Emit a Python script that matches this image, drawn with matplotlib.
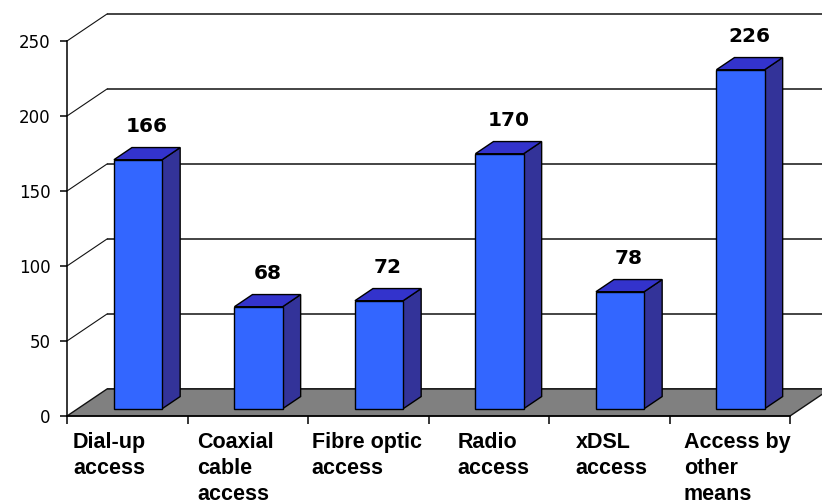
import matplotlib
matplotlib.use("Agg")
import matplotlib.pyplot as plt
from matplotlib.patches import Polygon

# Data
categories = ["Dial-up\naccess", "Coaxial\ncable\naccess", "Fibre optic\naccess",
              "Radio\naccess", "xDSL\naccess", "Access by\nother\nmeans"]
values = [166, 68, 72, 170, 78, 226]
y_ticks = [0, 50, 100, 150, 200, 250]

# Layout (pseudo-3D geometry in data units)
DEPTH_X = 0.332      # wall depth along x (category units)
DEPTH_Y = 18.0       # wall depth along y (value units)
BAR_W = 0.40
BAR_FRONT = 0.27     # bar front position as a fraction of depth
BAR_DEPTH = 0.45     # bar depth as a fraction of depth
label_left = [0.05, 1.08, 2.03, 3.24, 4.22, 5.12]

FRONT = "#3366FF"
SIDE = "#333399"
TOP = "#3333CC"
FLOOR = "#808080"

fig = plt.figure(figsize=(8.22, 5.04), dpi=100)
fig.patch.set_facecolor("white")
ax = fig.add_axes([67 / 822, 88 / 504, 723 / 822, 375 / 504])
ax.set_facecolor("none")
n = len(values)
ax.set_xlim(0, n)
ax.set_ylim(0, 250)

# Back wall gridlines and side wall diagonals
for v in y_ticks:
    ax.plot([DEPTH_X, n + DEPTH_X], [v + DEPTH_Y, v + DEPTH_Y], color="#111111",
            lw=1.1, zorder=0.5, clip_on=False, solid_capstyle="butt")
    if v > 0:
        ax.plot([0, DEPTH_X], [v, v + DEPTH_Y], color="#111111", lw=0.8,
                zorder=0.5, clip_on=False)

# Floor
floor = Polygon([(0, 0), (n, 0), (n + DEPTH_X, DEPTH_Y), (DEPTH_X, DEPTH_Y)],
                closed=True, facecolor=FLOOR, edgecolor="#111111", lw=1.0,
                zorder=1, clip_on=False)
ax.add_patch(floor)

# Bars
fx, fy = BAR_FRONT * DEPTH_X, BAR_FRONT * DEPTH_Y
bx, by = BAR_DEPTH * DEPTH_X, BAR_DEPTH * DEPTH_Y
for i, v in enumerate(values):
    x0 = i + 0.5 - BAR_W / 2 + fx
    y0 = fy
    x1 = x0 + BAR_W
    front = [(x0, y0), (x1, y0), (x1, y0 + v), (x0, y0 + v)]
    side = [(x1, y0), (x1 + bx, y0 + by), (x1 + bx, y0 + by + v), (x1, y0 + v)]
    top = [(x0, y0 + v), (x1, y0 + v), (x1 + bx, y0 + v + by), (x0 + bx, y0 + v + by)]
    for pts, col in ((side, SIDE), (top, TOP), (front, FRONT)):
        ax.add_patch(Polygon(pts, closed=True, facecolor=col, edgecolor="black",
                             lw=1.0, zorder=3, clip_on=False, joinstyle="miter"))
    cx = i + 0.5 + (BAR_FRONT + BAR_DEPTH / 2) * DEPTH_X
    cy = v + DEPTH_Y * 0.5 + 18
    ax.text(cx, cy, str(v), ha="center", va="center", fontsize=14.5,
            fontweight="bold", family="DejaVu Sans", color="black", zorder=5,
            clip_on=False)

# Category labels
for xl, lab in zip(label_left, categories):
    ax.text(xl, -10.5, lab, ha="left", va="top", fontsize=15.5, fontweight="bold",
            family="Liberation Sans", linespacing=1.32, color="black",
            multialignment="left")

# Axes styling
for s in ("top", "right"):
    ax.spines[s].set_visible(False)
ax.spines["left"].set_linewidth(1.1)
ax.spines["bottom"].set_linewidth(1.1)
ax.spines["left"].set_zorder(4)
ax.spines["bottom"].set_zorder(4)
ax.set_yticks(y_ticks)
ax.set_yticklabels([str(t) for t in y_ticks], fontsize=12, family="DejaVu Sans")
ax.set_xticks(range(n + 1))
ax.set_xticklabels([])
ax.tick_params(axis="y", direction="out", length=5, width=1.1, pad=7)
ax.tick_params(axis="x", direction="out", length=6, width=1.1)

fig.savefig("out.png", dpi=100, facecolor="white")
